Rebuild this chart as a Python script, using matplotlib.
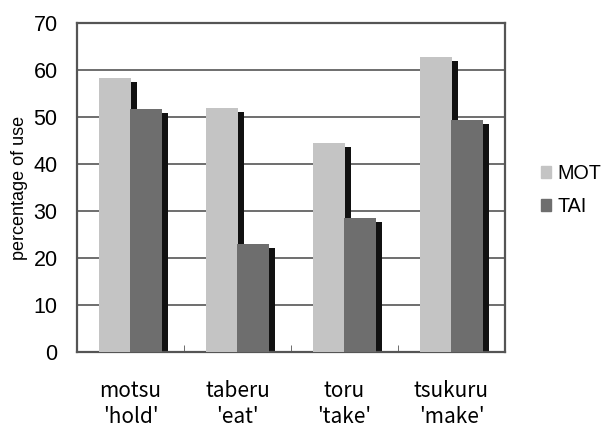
import numpy as np
import matplotlib
matplotlib.use("Agg")
import matplotlib.pyplot as plt
from matplotlib.patches import Patch

# percentage of use per verb
verbos = ["motsu\n'hold'", "taberu\n'eat'", "toru\n'take'", "tsukuru\n'make'"]
mot = [58.2, 51.9, 44.4, 62.8]
tai = [51.8, 22.9, 28.6, 49.3]

cor_mot = "#c4c4c4"
cor_tai = "#6e6e6e"
cor_sombra = "#111111"

fig = plt.figure(figsize=(6.09, 4.29), dpi=100)
ax = fig.add_axes([0.1264, 0.1795, 0.7028, 0.7669])

x = np.arange(len(verbos))
largura = 0.30
dx, dy = 0.058, 0.85  # deslocamento da sombra

for pos, valores, cor in [(x - 0.145, mot, cor_mot), (x + 0.145, tai, cor_tai)]:
    sombra = [v - dy for v in valores]
    ax.bar(pos + dx, sombra, largura, color=cor_sombra, zorder=2, linewidth=0)
    ax.bar(pos, valores, largura, color=cor, zorder=3, linewidth=0)

ax.set_xlim(-0.5, len(verbos) - 0.5)
ax.set_ylim(0, 70)
ax.set_yticks(range(0, 71, 10))
ax.yaxis.grid(True, color="#555555", linewidth=1.2, zorder=1)
ax.set_axisbelow(True)

ax.set_xticks(x)
ax.set_xticklabels(verbos, family=["Noto Sans CJK JP", "DejaVu Sans"], fontsize=15,
                   linespacing=1.25)
ax.tick_params(axis="x", which="major", length=0, pad=20)
ax.set_xticks(x[:-1] + 0.5, minor=True)
ax.tick_params(axis="x", which="minor", direction="in", length=5, color="#555555")
ax.tick_params(axis="y", length=0, pad=14, labelsize=15.5)
for t in ax.get_yticklabels():
    t.set_family("Liberation Sans")

for lado in ax.spines.values():
    lado.set_color("#555555")
    lado.set_linewidth(1.6)

ax.set_ylabel("percentage of use", family="Liberation Sans", fontsize=13, labelpad=4)

alcas = [Patch(color=cor_mot, label="MOT"), Patch(color=cor_tai, label="TAI")]
fig.legend(handles=alcas, loc="center left", bbox_to_anchor=(0.888, 0.557),
           frameon=False, borderpad=0, borderaxespad=0,
           handlelength=0.5, handleheight=0.6, handletextpad=0.35,
           labelspacing=0.7, prop={"family": "Liberation Sans", "size": 14.2})

plt.savefig("out.png", dpi=100)
